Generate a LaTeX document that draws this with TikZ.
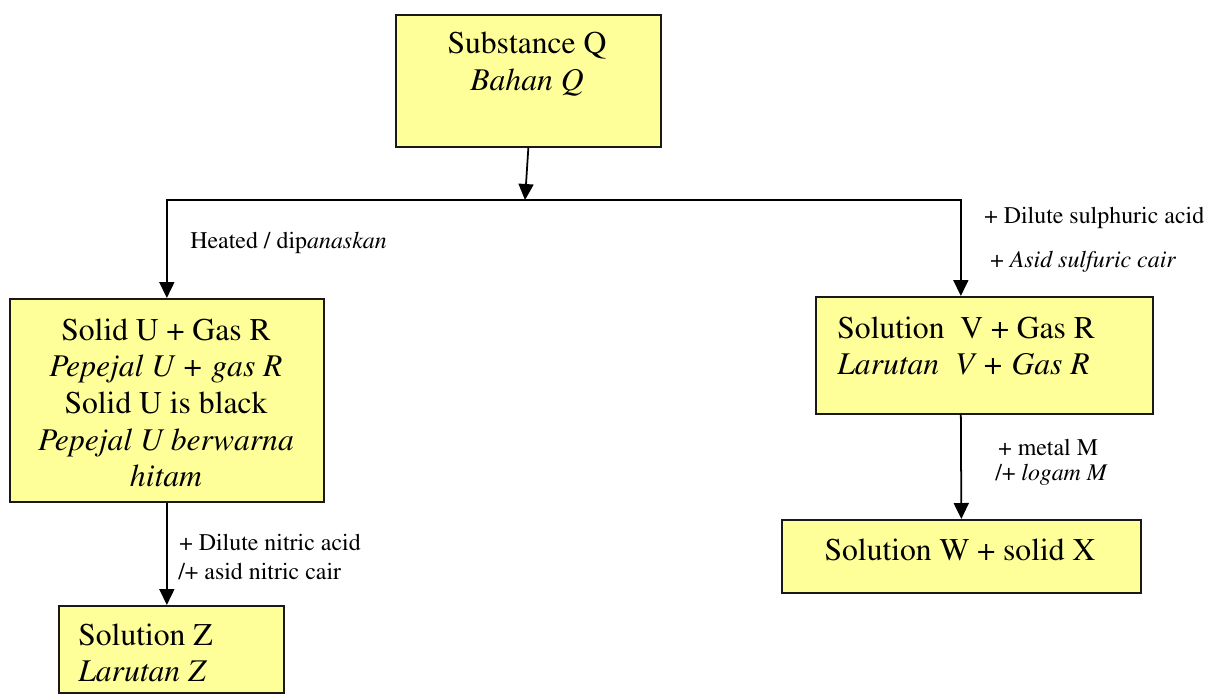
\documentclass[tikz,border=0pt]{standalone}
\usepackage[T1]{fontenc}
\usepackage{mathptmx}
\usepackage{xcolor}
\usetikzlibrary{arrows.meta,positioning,calc}
\definecolor{boxyellow}{RGB}{255,255,153}
\tikzset{
  box/.style={draw=black!90, line width=1pt, fill=boxyellow, anchor=north west, inner sep=0pt},
  big/.style={font=\fontsize{18}{20.8}\selectfont},
  small/.style={font=\fontsize{13.6}{16}\selectfont, anchor=west, inner sep=0pt},
  arr/.style={line width=1pt, -{Triangle[length=0.32cm,width=0.3cm]}}
}
\begin{document}
\begin{tikzpicture}[x=0.02cm,y=-0.02cm]
\useasboundingbox (0,0) rectangle (1207,694);

% Boxes
\node[box, minimum width=5.30cm, minimum height=2.64cm] (q) at (395,14) {};
\node[box, minimum width=6.28cm, minimum height=4.06cm] (u) at (9,298) {};
\node[box, minimum width=6.74cm, minimum height=2.34cm] (v) at (815,296) {};
\node[box, minimum width=7.18cm, minimum height=1.46cm] (w) at (781,519) {};
\node[box, minimum width=4.50cm, minimum height=1.74cm] (z) at (58,605) {};

% Box texts
\node[big, align=center] (qtext) at (527,64) {Substance Q\\ \textit{Bahan Q}};
\node[big, align=center] (utext) at (166,403) {Solid U + Gas R\\ \textit{Pepejal U + gas R}\\ Solid U is black\\ \textit{Pepejal U berwarna}\\ \textit{hitam}};
\node[big, align=left, anchor=west, inner sep=0pt] (vtext) at (837,346) {Solution\ \ V + Gas R\\ \textit{Larutan\ \ V + Gas R}};
\node[big] (wtext) at (960,550) {Solution W + solid X};
\node[big, align=left, anchor=west, inner sep=0pt] (ztext) at (78,653) {Solution Z\\ \textit{Larutan Z}};

% Arrows
\coordinate (j) at (525,200);
\draw[arr] (q.south) -- (j);
\draw[arr] (j) -| (u.north);
\draw[arr] (j) -| ([xshift=-0.47cm]v.north);
\draw[arr] (u.south) -- (u.south |- z.north);
\draw[arr] ([xshift=-0.47cm]v.south) -- (w.north);

% Labels
\node[small] (heat) at (190,243) {Heated / dip\textit{anaskan}};
\node[small] (sulf) at (984,218) {+ Dilute sulphuric acid};
\node[small] (asid) at (990,262) {+ \textit{Asid sulfuric cair}};
\node[small] (nitric) at (179,543) {+ Dilute nitric acid};
\node[small] (asidn) at (178,572) {/+ asid nitric cair};
\node[small] (metal) at (998,448) {+ metal M};
\node[small] (logam) at (995,475) {/+ \textit{logam M}};
\end{tikzpicture}
\end{document}
